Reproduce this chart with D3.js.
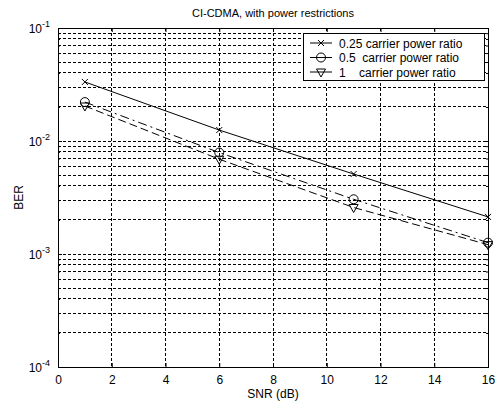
<!DOCTYPE html>
<html>
<head>
<meta charset="utf-8">
<script src="https://cdn.jsdelivr.net/npm/d3@7"></script>
<style>
  body { margin: 0; background: #fff; }
  text { font-family: "Liberation Sans", Arial, sans-serif; }
</style>
</head>
<body>
<div id="chart"></div>
<script>
//Width and height
var w = 495;
var h = 406;
var margin = { left: 58, right: 7, top: 28, bottom: 39 };

// data
var snr = [1, 6, 11, 16];
var ber_025 = [0.0333, 0.0125, 0.0051, 0.00213];
var ber_05 = [0.0221, 0.0079, 0.00305, 0.00126];
var ber_1 = [0.0204, 0.0069, 0.00258, 0.00121];
var series_names = ["0.25 carrier power ratio", "0.5  carrier power ratio", "1    carrier power ratio"];
var x_ticks = [0, 2, 4, 6, 8, 10, 12, 14, 16];
var y_exps = [-1, -2, -3, -4];

var xScale = d3.scaleLinear().domain([0, 16]).range([margin.left, w - margin.right]);
var yScale = d3.scaleLog().domain([1e-4, 1e-1]).range([h - margin.bottom, margin.top]);

var svg = d3.select("#chart").append("svg").attr("width", w).attr("height", h);

var x0 = margin.left, x1 = w - margin.right, y0 = margin.top, y1 = h - margin.bottom;

//Grid lines
var grid = svg.append("g").attr("stroke", "#000").attr("stroke-width", 1)
    .attr("stroke-dasharray", "3,2").attr("shape-rendering", "crispEdges");

x_ticks.slice(1, -1).forEach(function (t) {
    grid.append("line").attr("x1", xScale(t)).attr("x2", xScale(t)).attr("y1", y0).attr("y2", y1);
});

var yGrid = [];
[-4, -3, -2].forEach(function (e) {
    for (var m = 1; m <= 9; m++) yGrid.push(m * Math.pow(10, e));
});
yGrid.slice(1).forEach(function (v) {
    grid.append("line").attr("x1", x0).attr("x2", x1).attr("y1", yScale(v)).attr("y2", yScale(v));
});

//Axes
var xAxis = d3.axisBottom(xScale).tickValues(x_ticks).tickSizeInner(-4).tickSizeOuter(0).tickPadding(8);
var gx = svg.append("g").attr("transform", "translate(0," + y1 + ")").call(xAxis);
gx.select(".domain").remove();
gx.selectAll("text").attr("font-size", "12px").attr("fill", "#000").attr("font-family", "Liberation Sans, Arial, sans-serif");
gx.selectAll("line").attr("stroke", "#000");

var xAxisTop = d3.axisTop(xScale).tickValues(x_ticks).tickSizeInner(-4).tickSizeOuter(0).tickFormat("");
var gxt = svg.append("g").attr("transform", "translate(0," + y0 + ")").call(xAxisTop);
gxt.select(".domain").remove();

var yAxis = d3.axisLeft(yScale).tickValues(yGrid.concat([1e-1])).tickSizeInner(-4).tickSizeOuter(0).tickFormat("");
var gy = svg.append("g").attr("transform", "translate(" + x0 + ",0)").call(yAxis);
gy.select(".domain").remove();
gy.selectAll("line").attr("stroke-width", function (d) {
    return Math.abs(Math.log10(d) - Math.round(Math.log10(d))) < 1e-9 ? 1 : 1;
}).attr("x2", function (d) {
    return Math.abs(Math.log10(d) - Math.round(Math.log10(d))) < 1e-9 ? 4 : 2;
});

var yAxisR = d3.axisRight(yScale).tickValues(yGrid.concat([1e-1])).tickSizeInner(-4).tickSizeOuter(0).tickFormat("");
var gyr = svg.append("g").attr("transform", "translate(" + x1 + ",0)").call(yAxisR);
gyr.select(".domain").remove();
gyr.selectAll("line").attr("x2", function (d) {
    return Math.abs(Math.log10(d) - Math.round(Math.log10(d))) < 1e-9 ? -4 : -2;
});

//y tick labels as 10^e
y_exps.forEach(function (e) {
    var t = svg.append("text")
        .attr("x", x0 - 8)
        .attr("y", yScale(Math.pow(10, e)) + 5)
        .attr("text-anchor", "end")
        .attr("font-size", "12px")
        .attr("fill", "#000");
    t.append("tspan").text("10");
    t.append("tspan").attr("dy", -6).attr("font-size", "9px").text(e);
});

//Box
svg.append("rect")
    .attr("x", x0).attr("y", y0).attr("width", x1 - x0).attr("height", y1 - y0)
    .attr("fill", "none").attr("stroke", "#000").attr("shape-rendering", "crispEdges");

//Lines
var line = d3.line().x(function (d) { return xScale(d[0]); }).y(function (d) { return yScale(d[1]); });
var series = [
    { vals: ber_025, dash: null, marker: "x" },
    { vals: ber_05, dash: "9,4,2,4", marker: "o" },
    { vals: ber_1, dash: "8,4", marker: "v" }
];

function drawMarker(g, type, cx, cy) {
    if (type === "x") {
        g.append("path").attr("d", "M" + (cx - 3) + "," + (cy - 3) + "L" + (cx + 3) + "," + (cy + 3) +
            "M" + (cx - 3) + "," + (cy + 3) + "L" + (cx + 3) + "," + (cy - 3))
            .attr("stroke", "#000").attr("fill", "none");
    } else if (type === "o") {
        g.append("circle").attr("cx", cx).attr("cy", cy).attr("r", 4.5)
            .attr("stroke", "#000").attr("fill", "none");
    } else {
        g.append("path").attr("d", "M" + (cx - 4.5) + "," + (cy - 3) + "L" + (cx + 4.5) + "," + (cy - 3) +
            "L" + cx + "," + (cy + 5) + "Z")
            .attr("stroke", "#000").attr("fill", "none");
    }
}

series.forEach(function (s) {
    var pts = snr.map(function (x, i) { return [x, s.vals[i]]; });
    svg.append("path").datum(pts).attr("d", line)
        .attr("fill", "none").attr("stroke", "#000").attr("stroke-width", 1)
        .attr("stroke-dasharray", s.dash);
    var g = svg.append("g");
    pts.forEach(function (p) { drawMarker(g, s.marker, xScale(p[0]), yScale(p[1])); });
});

//Legend
var lg = svg.append("g");
lg.append("rect").attr("x", 303).attr("y", 33).attr("width", 181).attr("height", 47)
    .attr("fill", "#fff").attr("stroke", "#000").attr("shape-rendering", "crispEdges");
series.forEach(function (s, i) {
    var ly = 43 + i * 14.5;
    lg.append("line").attr("x1", 310).attr("x2", 332).attr("y1", ly).attr("y2", ly)
        .attr("stroke", "#000").attr("stroke-dasharray", s.dash ? "16,0" : null);
    drawMarker(lg, s.marker, 321, ly);
    lg.append("text").attr("x", 339).attr("y", ly + 4.5).attr("font-size", "12px")
        .attr("fill", "#000").attr("xml:space", "preserve").style("white-space", "pre")
        .text(series_names[i]);
});

//Titles
svg.append("text").attr("x", (x0 + x1) / 2).attr("y", 17).attr("text-anchor", "middle")
    .attr("font-size", "11px").attr("fill", "#000").text("CI-CDMA, with power restrictions");
svg.append("text").attr("x", (x0 + x1) / 2).attr("y", 398).attr("text-anchor", "middle")
    .attr("font-size", "12px").attr("fill", "#000").text("SNR (dB)");
svg.append("text").attr("transform", "translate(23," + ((y0 + y1) / 2) + ") rotate(-90)")
    .attr("text-anchor", "middle").attr("font-size", "12px").attr("fill", "#000").text("BER");
</script>
</body>
</html>
